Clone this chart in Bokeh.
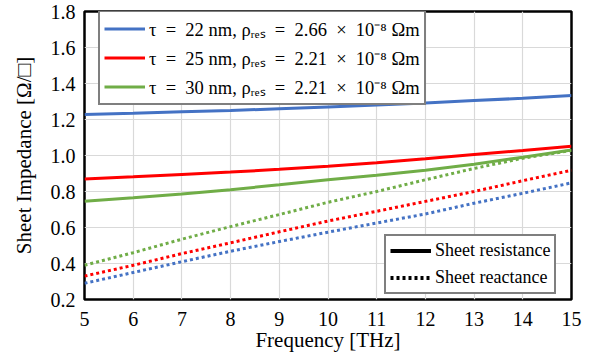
from bokeh.plotting import figure
from bokeh.models import Legend, LegendItem, PrintfTickFormatter, FixedTicker, Range1d
from bokeh.embed import file_html
from bokeh.resources import INLINE

# Frequency [THz]
freq = [5, 6, 7, 8, 9, 10, 11, 12, 13, 14, 15]

# Sheet resistance [Ohm/sq]
res_22 = [1.228, 1.235, 1.243, 1.250, 1.260, 1.270, 1.280, 1.292, 1.305, 1.318, 1.333]
res_25 = [0.870, 0.882, 0.895, 0.908, 0.923, 0.940, 0.960, 0.982, 1.005, 1.028, 1.052]
res_30 = [0.746, 0.765, 0.786, 0.810, 0.837, 0.865, 0.890, 0.918, 0.952, 0.990, 1.030]

# Sheet reactance [Ohm/sq]
rea_22 = [0.290, 0.350, 0.410, 0.468, 0.522, 0.574, 0.625, 0.675, 0.735, 0.790, 0.848]
rea_25 = [0.330, 0.390, 0.455, 0.515, 0.576, 0.636, 0.690, 0.745, 0.800, 0.860, 0.918]
rea_30 = [0.390, 0.460, 0.535, 0.605, 0.672, 0.740, 0.800, 0.865, 0.928, 0.985, 1.028]

E = "\u2002"
series_labels = [
    f"τ{E}={E}22 nm, ρᵣₑₛ{E}={E}2.66{E}×{E}10⁻⁸ Ωm",
    f"τ{E}={E}25 nm, ρᵣₑₛ{E}={E}2.21{E}×{E}10⁻⁸ Ωm",
    f"τ{E}={E}30 nm, ρᵣₑₛ{E}={E}2.21{E}×{E}10⁻⁸ Ωm",
]
colors = ["#4472C4", "#FF0000", "#70AD47"]
style_labels = ["Sheet resistance", "Sheet reactance"]

x_ticks = [5, 6, 7, 8, 9, 10, 11, 12, 13, 14, 15]
y_ticks = [0.2, 0.4, 0.6, 0.8, 1.0, 1.2, 1.4, 1.6, 1.8]

FONT = "Liberation Serif"

p = figure(width=588, height=358, output_backend="svg", toolbar_location=None,
           x_range=Range1d(5, 15), y_range=Range1d(0.2, 1.8),
           min_border_left=84, min_border_right=17, min_border_top=11, min_border_bottom=59)

p.background_fill_color = "white"
p.border_fill_color = "white"
p.outline_line_color = "black"
p.outline_line_width = 2.5

for ax in (p.xaxis[0], p.yaxis[0]):
    ax.axis_line_color = None
    ax.major_tick_line_color = None
    ax.minor_tick_line_color = None
    ax.major_label_text_font = FONT
    ax.major_label_text_font_size = "20px"
    ax.major_label_text_color = "black"
    ax.axis_label_text_font = FONT
    ax.axis_label_text_font_size = "21px"
    ax.axis_label_text_font_style = "normal"
    ax.axis_label_text_color = "black"

p.xaxis.ticker = FixedTicker(ticks=x_ticks)
p.yaxis.ticker = FixedTicker(ticks=y_ticks)
p.yaxis.formatter = PrintfTickFormatter(format="%.1f")
p.xaxis.axis_label = "Frequency [THz]"
p.yaxis.axis_label = "Sheet Impedance [Ω/□]"
p.xaxis.major_label_standoff = 6
p.yaxis.major_label_standoff = 3
p.xaxis.axis_label_standoff = -1
p.yaxis.axis_label_standoff = 12

p.xgrid.grid_line_color = "#D9D9D9"
p.ygrid.grid_line_color = "#D9D9D9"
p.xgrid.grid_line_width = 1.2
p.ygrid.grid_line_width = 1.2

res_all = [res_22, res_25, res_30]
rea_all = [rea_22, rea_25, rea_30]

solid_renderers = []
for ys, c in zip(rea_all, colors):
    p.line(freq, ys, line_color=c, line_width=3, line_dash="3 3")
for ys, c in zip(res_all, colors):
    r = p.line(freq, ys, line_color=c, line_width=3)
    solid_renderers.append(r)

nan = float("nan")
dummy_solid = p.line([nan], [nan], line_color="black", line_width=4)
dummy_dot = p.line([nan], [nan], line_color="black", line_width=4, line_dash="3 3")

leg1 = Legend(items=[LegendItem(label=l, renderers=[r]) for l, r in zip(series_labels, solid_renderers)],
              location=(14, 194))
leg2 = Legend(items=[LegendItem(label=style_labels[0], renderers=[dummy_solid]),
                     LegendItem(label=style_labels[1], renderers=[dummy_dot])],
              location=(300, 5))
for lg in (leg1, leg2):
    lg.border_line_color = "black"
    lg.border_line_width = 2
    lg.background_fill_color = "white"
    lg.background_fill_alpha = 1
    lg.label_text_font = FONT
    lg.label_text_font_size = "18px"
    lg.label_text_color = "black"
    lg.glyph_width = 41
    lg.glyph_height = 21
    lg.label_height = 21
    lg.label_standoff = 4
    lg.spacing = 6
    lg.padding = 4
    lg.margin = 0
leg1.label_text_font_size = "18.5px"
leg1.spacing = 4
p.add_layout(leg1)
p.add_layout(leg2)

open("out.html", "w").write(file_html(p, INLINE))
